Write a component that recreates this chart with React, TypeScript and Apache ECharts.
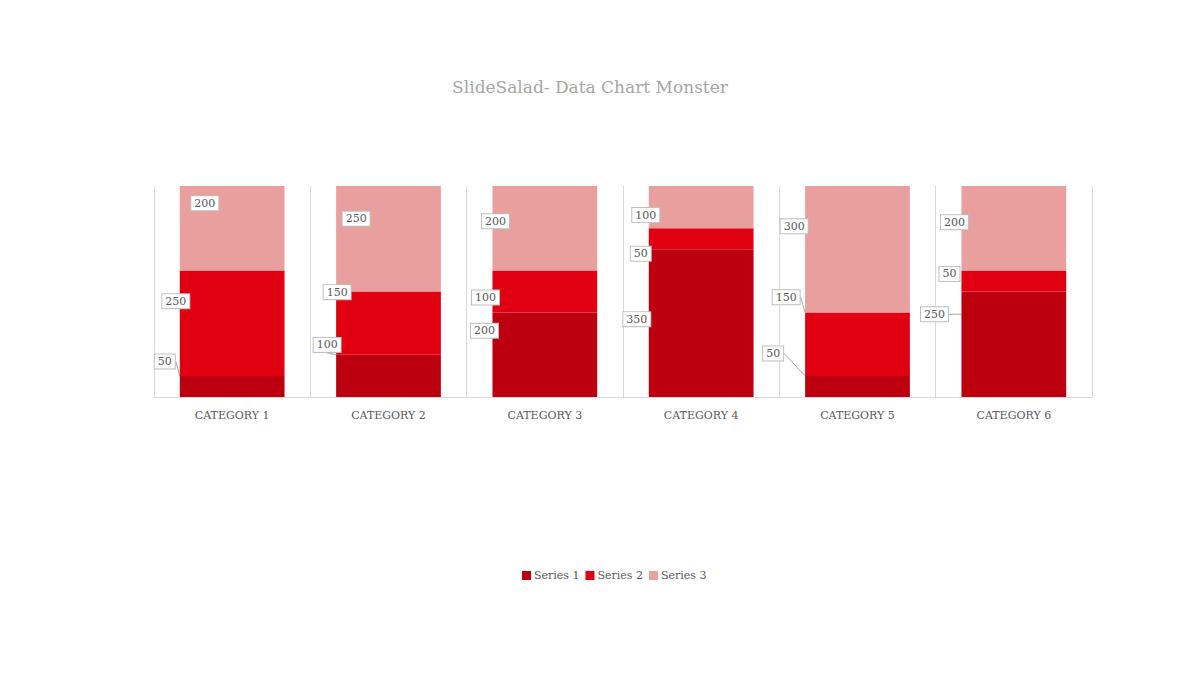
import * as echarts from "echarts";
import React, { useEffect, useRef } from 'react';

const categories = ['CATEGORY 1', 'CATEGORY 2', 'CATEGORY 3', 'CATEGORY 4', 'CATEGORY 5', 'CATEGORY 6'];
const seriesNames = ['Series 1', 'Series 2', 'Series 3'];
const series1 = [50, 100, 200, 350, 50, 250];
const series2 = [250, 150, 100, 50, 150, 50];
const series3 = [200, 250, 200, 100, 300, 200];
const colors = ['#bd000f', '#e10012', '#ea9f9f'];

// where each boxed label sits, measured from the bar's left edge / segment middle
const labelOffsets = [
    [[-15, -25], [-9, -31], [-8, -24], [-12, -4], [-32, -33], [-27, -30]],
    [[-4, -22], [1, -31], [-7, 6], [-8, 15], [-19, -47], [-12, -7]],
    [[25, -25], [20, -20], [3, -7], [-3, 8], [-11, -23], [-7, -6]],
];
// which labels have a leader line back to their bar
const leaders = [
    [true, true, false, false, true, true],
    [false, false, false, false, true, false],
    [false, false, false, false, false, false],
];

const values = [series1, series2, series3];
const font = '"DejaVu Serif", "Liberation Serif", serif';

const App: React.FC = () => {
    const chartRef = useRef<HTMLDivElement>(null);

    useEffect(() => {
        if (!chartRef.current) return;
        const chart = echarts.init(chartRef.current, undefined, { renderer: 'svg' });

        chart.setOption({
            animation: false,
            title: {
                text: 'SlideSalad- Data Chart Monster',
                left: 585,
                textAlign: 'center',
                top: 73,
                textStyle: { color: '#a6a6a6', fontSize: 17, fontWeight: 'normal', fontFamily: font },
            },
            legend: {
                bottom: 89,
                left: 517,
                itemWidth: 9,
                itemHeight: 9,
                itemGap: 6,
                icon: 'rect',
                data: seriesNames,
                textStyle: { color: '#595959', fontSize: 11, fontFamily: font, padding: [0, 0, 0, -2] },
            },
            grid: { left: 154, right: 108, top: 186, bottom: 278 },
            xAxis: {
                type: 'category',
                data: categories,
                axisLine: { lineStyle: { color: '#d9d9d9' } },
                axisTick: { show: false },
                splitLine: { show: true, interval: 0, lineStyle: { color: '#d9d9d9' } },
                axisLabel: { color: '#595959', fontSize: 11, fontFamily: font, margin: 13 },
            },
            yAxis: {
                type: 'value',
                min: 0,
                max: 500,
                show: false,
                splitLine: { show: false },
            },
            series: seriesNames.map((name, s) => ({
                name,
                type: 'bar',
                stack: 'total',
                barCategoryGap: '33%',
                itemStyle: { color: colors[s] },
                label: {
                    show: true,
                    position: 'inside',
                    color: '#595959',
                    fontSize: 11,
                    fontFamily: font,
                    backgroundColor: '#ffffff',
                    borderColor: '#bfbfbf',
                    borderWidth: 1,
                    padding: [2, 3, 1, 3],
                },
                labelLine: { show: false, lineStyle: { color: '#a6a6a6', width: 1 } },
                labelLayout: (p: any) => {
                    const off = labelOffsets[s][p.dataIndex];
                    return {
                        x: p.rect.x + off[0],
                        y: p.rect.y + p.rect.height / 2 + off[1],
                        align: 'center',
                        verticalAlign: 'middle',
                    };
                },
                data: values[s].map((v, i) => ({
                    value: v,
                    labelLine: { show: leaders[s][i], lineStyle: { color: '#a6a6a6', width: 1 } },
                })),
            })),
        });

        return () => chart.dispose();
    }, []);

    return (
        <div ref={chartRef} style={{ position: 'fixed', left: 0, top: 0, width: 1200, height: 675, background: '#fff' }} />
    );
};

export default App;
